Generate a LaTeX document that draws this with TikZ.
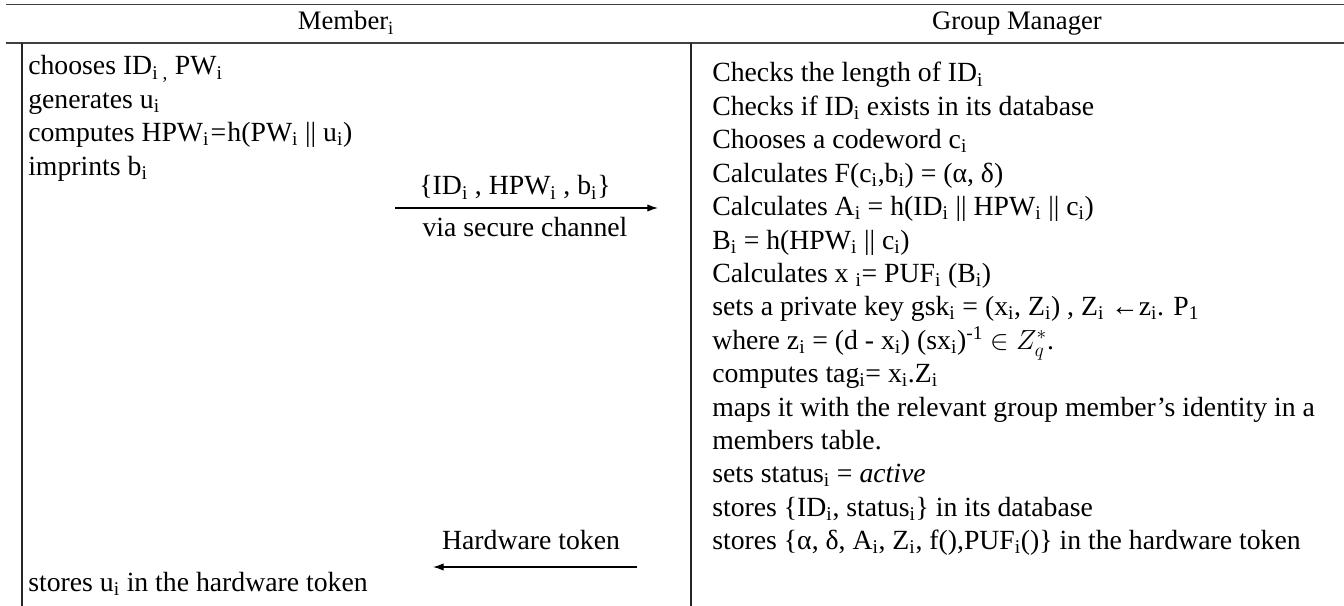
\documentclass[tikz,border=0pt]{standalone}
\usepackage{fontspec}
\setmainfont{Liberation Serif}
\usetikzlibrary{arrows.meta}

\newcommand{\ix}{\textsubscript{i}}

\tikzset{
  rule/.style={line width=1.3pt, black!75},
  colrule/.style={line width=1pt, black!85},
  msg/.style={line width=0.9pt, -{Latex[length=8pt,width=5.5pt]}},
  txt/.style={anchor=base west, inner sep=0pt, font=\fontsize{20.8}{24}\selectfont},
  lbl/.style={anchor=base, inner sep=0pt, font=\fontsize{20.8}{24}\selectfont},
}

\begin{document}
\begin{tikzpicture}[x=0.75pt, y=-0.75pt]
\useasboundingbox (0,0) rectangle (1344,606);

% Table rules
\draw[rule] (6,4.5) -- (1344,4.5);
\draw[rule] (6,43) -- (1344,43);
\draw[colrule] (22,43) -- (22,606);
\draw[colrule] (691,43) -- (691,606);

% Column headers
\node[lbl, font=\fontsize{20}{24}\selectfont] (member) at (346,30) {Member\ix};
\node[lbl, font=\fontsize{20}{24}\selectfont] (manager) at (1017,30) {Group Manager};

% Member side
\foreach \ln [count=\k] in {
  {chooses ID\textsubscript{i ,} PW\ix},
  {generates u\ix},
  {computes HPW\ix\kern1pt=\kern1pt h(PW\ix{} || u\ix)},
  {imprints b\ix}} {
  \node[txt] (mb\k) at ({28},{75+33.4*(\k-1)}) {\ln};
}
\node[txt] (mbstore) at (28,591) {stores u\ix{} in the hardware token};

% Group manager side
\foreach \ln [count=\k] in {
  {Checks the length of ID\ix},
  {Checks if ID\ix{} exists in its database},
  {Chooses a codeword c\ix},
  {Calculates F(c\ix,b\ix) = (α, δ)},
  {Calculates A\ix{} = h(ID\ix{} || HPW\ix{} || c\ix)},
  {B\ix{} = h(HPW\ix{} || c\ix)},
  {Calculates x \textsubscript{i}= PUF\ix{} (B\ix)},
  {sets a private key gsk\ix{} = (x\ix, Z\ix) , Z\ix{} ←z\ix. P\textsubscript{1}},
  {where z\ix{} = (d - x\ix) (sx\ix)\textsuperscript{-1} $\in Z_q^*$.},
  {computes tag\ix= x\ix.Z\ix},
  {maps it with the relevant group member’s identity in a},
  {members table.},
  {sets status\ix{} = \textit{active}},
  {stores \{ID\ix, status\ix\} in its database},
  {stores \{α, δ, A\ix, Z\ix, f(),PUF\ix()\} in the hardware token}} {
  \node[txt] (gm\k) at ({712},{82+33.4*(\k-1)}) {\ln};
}

% Registration request
\coordinate (reqA) at (395,208);
\coordinate (reqB) at (658,208);
\draw[msg] (reqA) -- (reqB);
\node[lbl] (reqtop) at (515,195) {\{ID\ix{} , HPW\ix{} , b\ix\}};
\node[lbl] (reqbot) at (525,236) {via secure channel};

% Token delivery
\coordinate (tokA) at (637,567);
\coordinate (tokB) at (433,567);
\draw[msg] (tokA) -- (tokB);
\node[lbl] (toklbl) at (531,549) {Hardware token};

\end{tikzpicture}
\end{document}
